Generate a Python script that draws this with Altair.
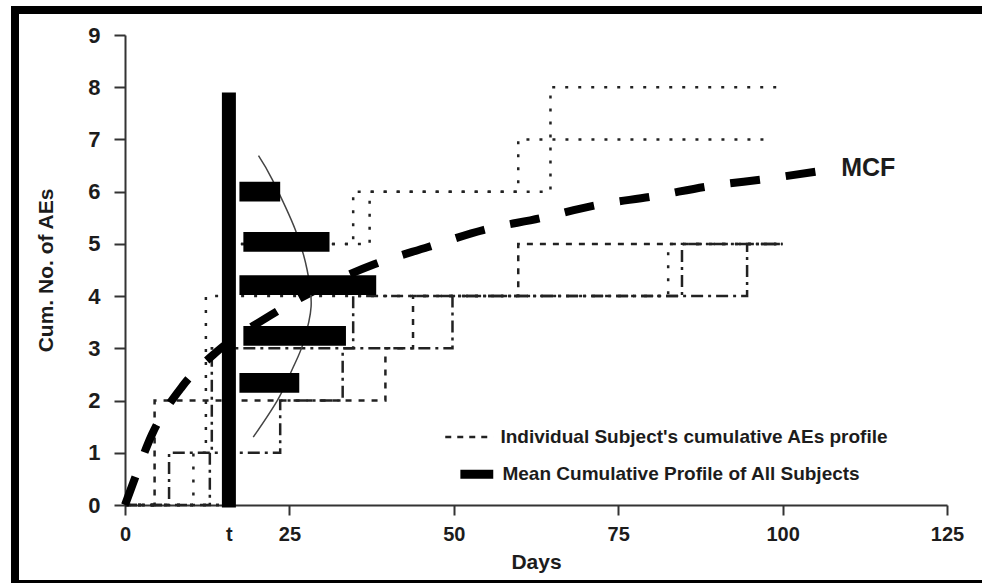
import altair as alt
import pandas as pd

FONT = "Liberation Sans"
INK = "#1c1c1c"

# ---- axis ticks ----
x_tick_values = [0, 15.8, 25, 50, 75, 100, 125]
y_tick_values = [0, 1, 2, 3, 4, 5, 6, 7, 8, 9]

# ---- the "t" time point bar ----
t_day = 15.8
t_bar_counts = [-0.05, 7.9]

# ---- mean cumulative profile bars at time t ----
bar_levels = [6.0, 5.04, 4.21, 3.24, 2.34]
bar_starts = [17.4, 18.0, 17.4, 18.0, 17.4]
bar_ends = [23.6, 31.1, 38.2, 33.6, 26.5]

# ---- MCF curve ----
mcf_days = [0, 1.0, 4.1, 8.7, 13.9, 22.1, 37.9, 46.1, 54.6, 63.1, 71.6, 80.3, 89.1, 97.8, 105.9]
mcf_values = [0, 0.34, 1.35, 2.27, 2.93, 3.63, 4.61, 4.94, 5.27, 5.49, 5.74, 5.91, 6.11, 6.25, 6.40]

# ---- distribution curve at t ----
curve_counts = [1.30, 2.01, 2.59, 3.10, 3.80, 4.50, 5.27, 6.23, 6.69]
curve_days = [19.5, 23.2, 25.4, 27.1, 28.3, 27.7, 25.9, 22.4, 20.3]

# ---- individual subject step profiles ----
prof_a_days = [0, 4.5, 39.6, 43.8, 59.8, 100]
prof_a_counts = [0, 2, 3, 4, 5, 5]
prof_b_days = [0, 6.7, 23.6, 33.1, 49.8, 94.6, 100]
prof_b_counts = [0, 1, 2, 3, 4, 5, 5]
prof_c_days = [0, 10.4, 12.3, 82.6, 100]
prof_c_counts = [0, 1, 4, 5, 5]
prof_d_days = [0, 12.9, 13.2, 34.7, 84.7, 100]
prof_d_counts = [0, 1, 3, 4, 5, 5]
prof_e_days = [0, 16.0, 34.7, 59.8, 98.6]
prof_e_counts = [0, 5, 6, 7, 7]
prof_f_days = [0, 16.0, 37.2, 64.7, 100]
prof_f_counts = [0, 5, 6, 8, 8]

profiles = [
    ("A", "dashed", prof_a_days, prof_a_counts),
    ("B", "dashdot", prof_b_days, prof_b_counts),
    ("C", "dotted", prof_c_days, prof_c_counts),
    ("D", "dashdot", prof_d_days, prof_d_counts),
    ("E", "dotted", prof_e_days, prof_e_counts),
    ("F", "dotted", prof_f_days, prof_f_counts),
]

rows = []
for name, style, ds, cs in profiles:
    for d, c in zip(ds, cs):
        rows.append({"profile": name, "style": style, "day": d, "count": c})
prof_df = pd.DataFrame(rows)

bars_df = pd.DataFrame({"level": bar_levels, "start": bar_starts, "end": bar_ends})
mcf_df = pd.DataFrame({"day": mcf_days, "count": mcf_values})
curve_df = pd.DataFrame({"day": curve_days, "count": curve_counts,
                         "k": list(range(len(curve_days)))})
one = pd.DataFrame({"z": [0]})

x_scale = alt.Scale(domain=[0, 125], nice=False, zero=False)
y_scale = alt.Scale(domain=[0, 9], nice=False, zero=False)

x_axis = alt.Axis(
    values=x_tick_values, format="d",
    labelExpr="abs(datum.value - 15.8) < 0.01 ? 't' : datum.label",
    tickOpacity={"condition": {"test": "abs(datum.value - 15.8) < 0.01", "value": 0}, "value": 1},
    title="Days", grid=False,
    domainColor="#333", domainWidth=2, tickColor="#333", tickWidth=2, tickSize=10,
    labelFont=FONT, labelFontSize=20, labelFontWeight="bold", labelColor=INK,
    labelPadding=9, labelFlush=False, labelOverlap=False,
    titleFont=FONT, titleFontSize=21, titleFontWeight="bold", titleColor=INK,
    titlePadding=7,
)
y_axis = alt.Axis(
    values=y_tick_values, title="Cum. No. of AEs", grid=False,
    domainColor="#333", domainWidth=2, tickColor="#333", tickWidth=2, tickSize=11,
    labelFont=FONT, labelFontSize=22, labelFontWeight="bold", labelColor=INK,
    labelPadding=14, labelFlush=False,
    titleFont=FONT, titleFontSize=21, titleFontWeight="bold", titleColor=INK,
    titlePadding=31,
)


def X(field):
    return alt.X(field, type="quantitative", scale=x_scale, axis=x_axis)


def Y(field):
    return alt.Y(field, type="quantitative", scale=y_scale, axis=y_axis)


steps = alt.Chart(prof_df).mark_line(interpolate="step-after", strokeWidth=2.5, color="#222").encode(
    x=X("day"), y=Y("count"), detail="profile:N",
    strokeDash=alt.StrokeDash("style:N", legend=None,
                              scale=alt.Scale(domain=["dotted", "dashed", "dashdot"],
                                              range=[[3, 10], [6, 7], [12, 5, 3, 5]])),
)

mcf = alt.Chart(mcf_df).mark_line(interpolate="monotone", strokeWidth=8, strokeDash=[30, 26],
                                  color="#000").encode(x=X("day"), y=Y("count"))

curve = alt.Chart(curve_df).mark_line(interpolate="cardinal", strokeWidth=1.5, color="#444").encode(
    x=X("day"), y=Y("count"), order="k:Q")

bars = alt.Chart(bars_df).transform_calculate(
    lo="datum.level - 0.19", hi="datum.level + 0.19"
).mark_rect(color="#000").encode(
    x=X("start"), x2="end", y=Y("lo"), y2="hi")

tbar = alt.Chart(one).mark_rule(strokeWidth=14, color="#000", strokeCap="butt").encode(
    x=alt.datum(t_day, scale=x_scale, type="quantitative"),
    y=alt.datum(t_bar_counts[0], type="quantitative"),
    y2=alt.datum(t_bar_counts[1]))

mcf_label = alt.Chart(one).mark_text(text="MCF", font=FONT, fontSize=25, fontWeight="bold",
                                     color=INK, align="left", baseline="middle").encode(
    x=alt.datum(108.9, type="quantitative"), y=alt.datum(6.45, type="quantitative"))

leg_line = alt.Chart(one).mark_rule(strokeWidth=2.5, strokeDash=[6, 6], color="#222").encode(
    x=alt.datum(48.7, type="quantitative"), x2=alt.datum(56.0),
    y=alt.datum(1.30, type="quantitative"))
leg_bar = alt.Chart(one).mark_rule(strokeWidth=9, color="#000", strokeCap="butt").encode(
    x=alt.datum(51.0, type="quantitative"), x2=alt.datum(56.0),
    y=alt.datum(0.59, type="quantitative"))
leg_t1 = alt.Chart(one).mark_text(text="Individual Subject's cumulative AEs profile", font=FONT,
                                  fontSize=19, fontWeight="bold", color=INK, align="left",
                                  baseline="middle").encode(
    x=alt.datum(57.1, type="quantitative"), y=alt.datum(1.30, type="quantitative"))
leg_t2 = alt.Chart(one).mark_text(text="Mean Cumulative Profile of All Subjects", font=FONT,
                                  fontSize=19, fontWeight="bold", color=INK, align="left",
                                  baseline="middle").encode(
    x=alt.datum(57.4, type="quantitative"), y=alt.datum(0.59, type="quantitative"))

# figure frame (open on the right, as in the cropped original); kept inside the canvas
frame_left = alt.Chart(one).mark_rule(stroke="#000", strokeWidth=8, strokeCap="butt").encode(
    x=alt.value(-110), y=alt.value(-29), y2=alt.value(548))
frame_top = alt.Chart(one).mark_rule(stroke="#000", strokeWidth=8, strokeCap="butt").encode(
    x=alt.value(-114), x2=alt.value(857), y=alt.value(-25))
frame_bottom = alt.Chart(one).mark_rule(stroke="#000", strokeWidth=3, strokeCap="butt").encode(
    x=alt.value(-114), x2=alt.value(857), y=alt.value(546.5))

chart = alt.layer(
    steps, mcf, curve, bars, tbar, mcf_label, leg_line, leg_bar, leg_t1, leg_t2,
    frame_left, frame_top, frame_bottom
).properties(
    width=822, height=470,
    autosize=alt.AutoSizeParams(type="none"),
    padding={"left": 125, "top": 35, "right": 35, "bottom": 78},
    background="white",
).configure_view(strokeWidth=0)

chart.save("out.html", embed_options={"renderer": "svg", "actions": False})
